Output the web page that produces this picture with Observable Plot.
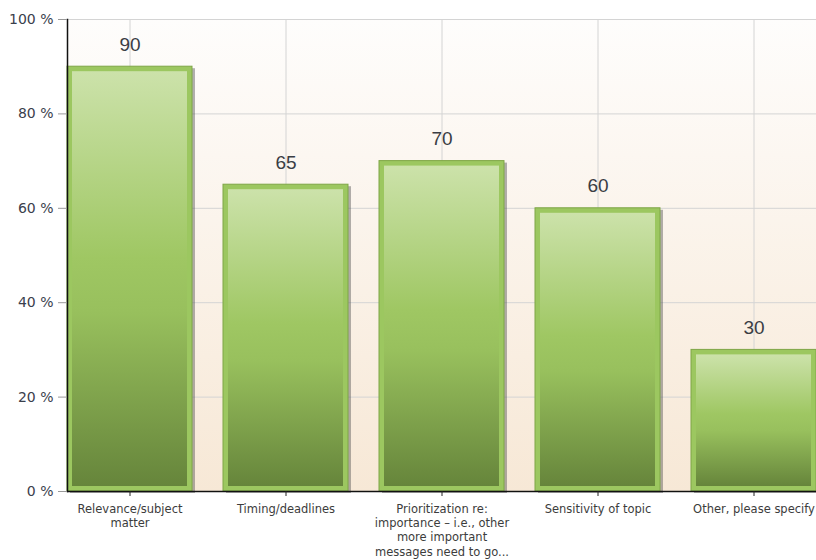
<!DOCTYPE html>
<html>
<head>
<meta charset="utf-8">
<script src="https://cdn.jsdelivr.net/npm/d3@7"></script>
<script src="https://cdn.jsdelivr.net/npm/@observablehq/plot@0.6"></script>
<style>
  html, body { margin: 0; padding: 0; background: #ffffff; }
  #chart { width: 816px; height: 560px; }
</style>
</head>
<body>
<div id="chart"></div>
<script>
const categories = [
  "Relevance/subject matter",
  "Timing/deadlines",
  "Prioritization re: importance – i.e., other more important messages need to go...",
  "Sensitivity of topic",
  "Other, please specify"
];
const values = [90, 65, 70, 60, 30];
const tickLabels = [
  "Relevance/subject\nmatter",
  "Timing/deadlines",
  "Prioritization re:\nimportance – i.e., other\nmore important\nmessages need to go...",
  "Sensitivity of topic",
  "Other, please specify"
];
const yTicks = [0, 20, 40, 60, 80, 100];

const data = categories.map((c, i) => ({category: c, value: values[i]}));

const chart = Plot.plot({
  width: 816,
  height: 560,
  marginLeft: 67,
  marginRight: 0,
  marginTop: 19,
  marginBottom: 69,
  style: {fontFamily: "DejaVu Sans", background: "#ffffff", overflow: "visible"},
  x: {domain: categories, paddingInner: 0.2, paddingOuter: 0, axis: null},
  y: {domain: [0, 100], axis: null},
  marks: [
    Plot.frame({fill: "url(#bgGrad)", stroke: "none"}),
    Plot.gridX({stroke: "#d4d4d4", strokeOpacity: 1, strokeWidth: 1}),
    Plot.gridY(yTicks, {stroke: "#d4d4d4", strokeOpacity: 1, strokeWidth: 1}),
    Plot.barY(data, {x: "category", y: "value", dx: 3, dy: 2, fill: "#555", fillOpacity: 0.45}),
    Plot.barY(data, {x: "category", y: "value", fill: "#9cc760", stroke: "#7fa646", strokeWidth: 1}),
    Plot.barY(data, {x: "category", y: "value", inset: 5, fill: "url(#barGrad)"}),
    Plot.ruleY([0], {stroke: "#111", strokeWidth: 1.5}),
    Plot.frame({anchor: "left", stroke: "#111", strokeWidth: 1.5}),
    Plot.axisY({ticks: yTicks, tickFormat: d => d + " %", tickSize: 9, tickPadding: 5,
      fontSize: 14, fill: "#3a404c", stroke: "#999", label: null}),
    Plot.axisX({tickSize: 5, tickPadding: 6, fontSize: 11.5, lineHeight: 1.25,
      tickFormat: (d, i) => tickLabels[categories.indexOf(d)], fill: "#3c3c3c", stroke: "#222", label: null}),
    Plot.text(data, {x: "category", y: "value", text: d => String(d.value), dy: -22,
      fontSize: 19, fontFamily: "Liberation Sans", fill: "#3a3d44"})
  ]
});

const defs = d3.create("svg:defs");
const bg = defs.append("linearGradient").attr("id", "bgGrad")
  .attr("x1", 0).attr("y1", 0).attr("x2", 0).attr("y2", 1);
bg.append("stop").attr("offset", "0%").attr("stop-color", "#fefdfc");
bg.append("stop").attr("offset", "100%").attr("stop-color", "#f7e8d6");
const bar = defs.append("linearGradient").attr("id", "barGrad")
  .attr("x1", 0).attr("y1", 0).attr("x2", 0).attr("y2", 1);
[["0%", "#cce2aa"], ["45%", "#9fc763"], ["58%", "#98c05d"], ["100%", "#66853b"]].forEach(([o, c]) =>
  bar.append("stop").attr("offset", o).attr("stop-color", c));
chart.insertBefore(defs.node(), chart.firstChild);

document.getElementById("chart").appendChild(chart);
</script>
</body>
</html>
